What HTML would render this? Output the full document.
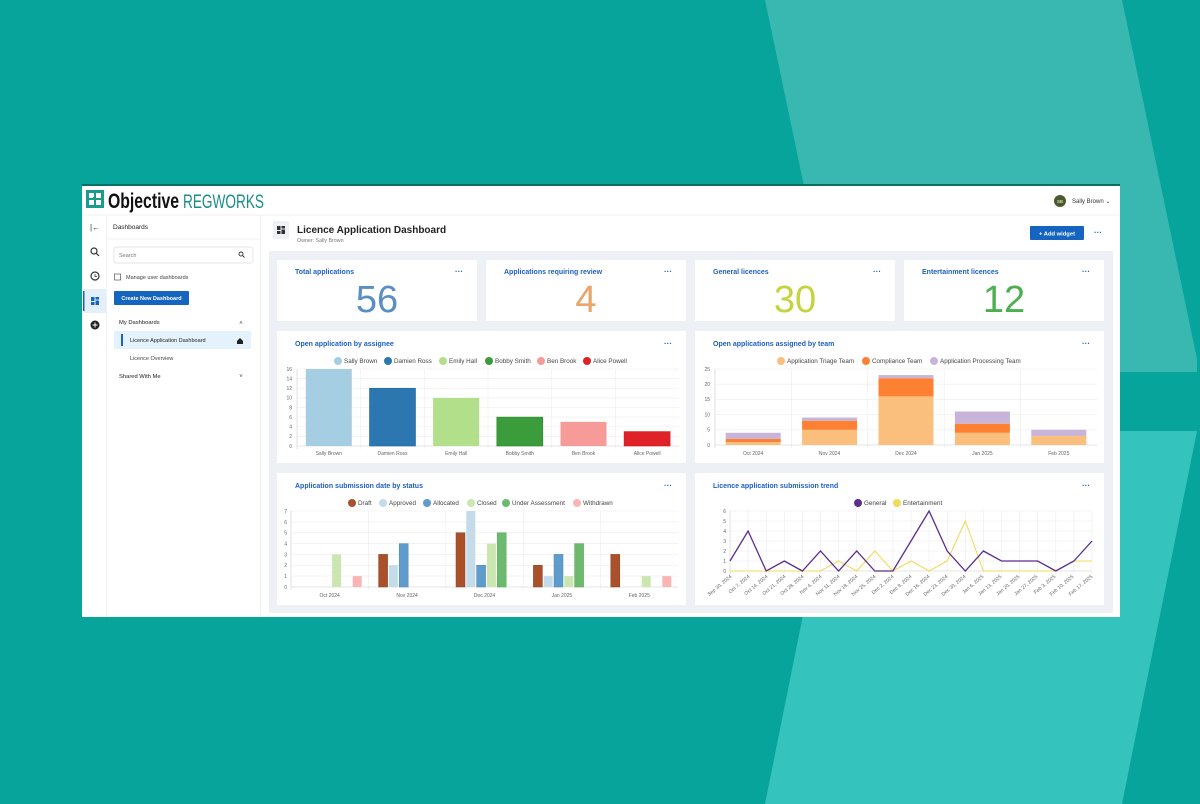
<!DOCTYPE html>
<html><head><meta charset="utf-8"><style>
html,body{margin:0;padding:0;width:1200px;height:804px;overflow:hidden;background:#06a49b}
svg{display:block}
text{font-family:"Liberation Sans",sans-serif}
.t{font-size:7px;fill:#1f5fbf;font-weight:bold}
.tk{font-size:5px;fill:#666}
.lg{font-size:6.3px;fill:#444}
.g{stroke:#ececec;stroke-width:0.6}
.dots{font-size:8px;fill:#1f5fbf;font-weight:bold}
</style></head><body>
<svg width="1200" height="804" viewBox="0 0 1200 804" xmlns="http://www.w3.org/2000/svg">
<rect width="1200" height="804" fill="#06a49b"/>
<polygon points="765,0 1122,0 1197,359 1197,372 843,372" fill="#39b8b2"/>
<polygon points="840,431 1197,431 1122,804 765,804" fill="#35c3be"/>

<!-- window -->
<rect x="82" y="184" width="1038" height="433" fill="#fff"/>
<rect x="82" y="184" width="1038" height="2" fill="#0b6f68"/>
<line x1="82" y1="215" x2="1120" y2="215" stroke="#eee" stroke-width="0.8"/>
<!-- logo -->
<rect x="86" y="190" width="18" height="18" fill="#1a9b8d"/>
<path d="M89 193h5v5h-5zM96 193h5v5h-5zM89 200h5v5h-5zM96 200h5v5h-5z" fill="#fff"/>
<path d="M93 197l2 2M95 197l-2 2" stroke="#1a9b8d"/>
<text x="108" y="208" font-size="21" font-weight="bold" fill="#111" textLength="71" lengthAdjust="spacingAndGlyphs">Objective</text>
<text x="183" y="208" font-size="19" fill="#1a8f88" textLength="81" lengthAdjust="spacingAndGlyphs">REGWORKS</text>
<circle cx="1060" cy="201" r="6" fill="#4a5a2a"/>
<text x="1060" y="203" font-size="4.5" fill="#fff" text-anchor="middle">SB</text>
<text x="1072" y="203" font-size="6" fill="#333">Sally Brown ⌄</text>

<!-- rail -->
<line x1="106.5" y1="215" x2="106.5" y2="617" stroke="#eee" stroke-width="0.8"/>
<text x="95" y="230" font-size="8" fill="#333" text-anchor="middle">|←</text>
<circle cx="94" cy="251" r="3" fill="none" stroke="#333" stroke-width="1.2"/><line x1="96" y1="253" x2="99" y2="256" stroke="#333" stroke-width="1.2"/>
<circle cx="95" cy="276" r="4" fill="none" stroke="#333" stroke-width="1.2"/><path d="M95 274v2.5h2" stroke="#333" fill="none" stroke-width="0.8"/>
<rect x="83" y="289" width="23" height="24" fill="#e3f0fb"/>
<rect x="83" y="291" width="1.5" height="20" fill="#1565c0"/>
<path d="M91 297h3.5v4h-3.5zM95.5 297h3.5v2.5h-3.5zM91 302h3.5v3h-3.5zM95.5 300.5h3.5v4.5h-3.5z" fill="#1565c0"/>
<circle cx="95" cy="325" r="4.5" fill="#222"/><path d="M92.5 325h5M95 322.5v5" stroke="#fff" stroke-width="1"/>

<!-- panel -->
<line x1="260.5" y1="215" x2="260.5" y2="617" stroke="#eee" stroke-width="0.8"/>
<text x="113" y="229" font-size="6.5" fill="#222">Dashboards</text>
<line x1="107" y1="239" x2="260" y2="239" stroke="#eee" stroke-width="0.8"/>
<rect x="114" y="247" width="139" height="16" rx="2" fill="#fff" stroke="#ddd" stroke-width="0.7"/>
<text x="119" y="257" font-size="5.5" fill="#777">Search</text>
<circle cx="241" cy="254" r="2" fill="none" stroke="#333" stroke-width="0.9"/><line x1="242.5" y1="255.5" x2="244.5" y2="257.5" stroke="#333" stroke-width="0.9"/>
<rect x="114.5" y="274" width="6" height="6" fill="#fff" stroke="#555" stroke-width="0.7"/>
<text x="126" y="279" font-size="5.5" fill="#444">Manage user dashboards</text>
<rect x="114" y="291" width="75" height="14" rx="1" fill="#1565c0"/>
<text x="151.5" y="300" font-size="5.5" fill="#fff" text-anchor="middle" font-weight="bold">Create New Dashboard</text>
<text x="119" y="324" font-size="5.8" fill="#222">My Dashboards</text>
<text x="241" y="325" font-size="6" fill="#444" text-anchor="middle">˄</text>
<rect x="114" y="331" width="137" height="18" fill="#e3f2fd"/>
<rect x="121" y="334" width="2" height="12" fill="#1565c0"/>
<text x="130" y="342" font-size="5.5" fill="#222">Licence Application Dashboard</text>
<path d="M237 341l3-3 3 3v3h-6z" fill="#222"/>
<text x="130" y="360" font-size="5.5" fill="#444">Licence Overview</text>
<text x="119" y="378" font-size="5.8" fill="#222">Shared With Me</text>
<text x="241" y="378" font-size="6" fill="#444" text-anchor="middle">˅</text>

<!-- main header -->
<rect x="273" y="221" width="16" height="18" rx="2" fill="#eef1f5"/>
<path d="M277 226h3.5v4h-3.5zM281.5 226h3.5v2.5h-3.5zM277 231h3.5v3h-3.5zM281.5 229.5h3.5v4.5h-3.5z" fill="#333"/>
<text x="297" y="233" font-size="10" font-weight="bold" fill="#222">Licence Application Dashboard</text>
<text x="297" y="242" font-size="5.3" fill="#777">Owner: Sally Brown</text>
<rect x="1030" y="226" width="54" height="14" rx="1" fill="#1565c0"/>
<text x="1057" y="235.5" font-size="5.8" fill="#fff" text-anchor="middle" font-weight="bold">+  Add widget</text>
<text x="1098" y="235" class="dots" text-anchor="middle">···</text>

<rect x="269" y="251" width="844" height="362" fill="#edf0f4"/>

<!-- KPI cards -->
<rect x="277" y="260" width="200" height="61" fill="#fff"/>
<rect x="486" y="260" width="200" height="61" fill="#fff"/>
<rect x="695" y="260" width="200" height="61" fill="#fff"/>
<rect x="904" y="260" width="200" height="61" fill="#fff"/>
<text x="295" y="274" class="t">Total applications</text>
<text x="504" y="274" class="t">Applications requiring review</text>
<text x="713" y="274" class="t">General licences</text>
<text x="922" y="274" class="t">Entertainment licences</text>
<text x="459" y="274" class="dots" text-anchor="middle">···</text>
<text x="668" y="274" class="dots" text-anchor="middle">···</text>
<text x="877" y="274" class="dots" text-anchor="middle">···</text>
<text x="1086" y="274" class="dots" text-anchor="middle">···</text>
<text x="377" y="312" font-size="38" fill="#5b8ec4" text-anchor="middle">56</text>
<text x="586" y="312" font-size="38" fill="#e8a56a" text-anchor="middle">4</text>
<text x="795" y="312" font-size="38" fill="#c5d33f" text-anchor="middle">30</text>
<text x="1004" y="312" font-size="38" fill="#4caf50" text-anchor="middle">12</text>

<!-- chart cards -->
<rect x="277" y="331" width="409" height="132" fill="#fff"/>
<rect x="695" y="331" width="409" height="132" fill="#fff"/>
<rect x="277" y="473" width="409" height="132" fill="#fff"/>
<rect x="695" y="473" width="409" height="132" fill="#fff"/>
<text x="295" y="346" class="t">Open application by assignee</text>
<text x="713" y="346" class="t">Open applications assigned by team</text>
<text x="295" y="488" class="t">Application submission date by status</text>
<text x="713" y="488" class="t">Licence application submission trend</text>
<text x="668" y="346" class="dots" text-anchor="middle">···</text>
<text x="1086" y="346" class="dots" text-anchor="middle">···</text>
<text x="668" y="488" class="dots" text-anchor="middle">···</text>
<text x="1086" y="488" class="dots" text-anchor="middle">···</text>

<!-- Chart 1: assignee -->
<g>
<line class="g" x1="297" x2="679" y1="369" y2="369"/><line class="g" x1="297" x2="679" y1="378.6" y2="378.6"/><line class="g" x1="297" x2="679" y1="388.25" y2="388.25"/><line class="g" x1="297" x2="679" y1="397.9" y2="397.9"/><line class="g" x1="297" x2="679" y1="407.5" y2="407.5"/><line class="g" x1="297" x2="679" y1="417.1" y2="417.1"/><line class="g" x1="297" x2="679" y1="426.75" y2="426.75"/><line class="g" x1="297" x2="679" y1="436.4" y2="436.4"/>
<line class="g" x1="360.7" x2="360.7" y1="369" y2="449"/><line class="g" x1="424.3" x2="424.3" y1="369" y2="449"/><line class="g" x1="488" x2="488" y1="369" y2="449"/><line class="g" x1="551.7" x2="551.7" y1="369" y2="449"/><line class="g" x1="615.3" x2="615.3" y1="369" y2="449"/>
<line x1="297" x2="679" y1="446" y2="446" stroke="#ccc" stroke-width="0.6"/><line x1="297" x2="297" y1="369" y2="449" stroke="#ccc" stroke-width="0.6"/>
<text class="tk" x="292" y="371" text-anchor="end">16</text><text class="tk" x="292" y="380.5" text-anchor="end">14</text><text class="tk" x="292" y="390" text-anchor="end">12</text><text class="tk" x="292" y="399.7" text-anchor="end">10</text><text class="tk" x="292" y="409.3" text-anchor="end">8</text><text class="tk" x="292" y="419" text-anchor="end">6</text><text class="tk" x="292" y="428.6" text-anchor="end">4</text><text class="tk" x="292" y="438.2" text-anchor="end">2</text><text class="tk" x="292" y="447.8" text-anchor="end">0</text>
<rect x="305.8" y="369" width="46" height="77" fill="#a6cee3"/>
<rect x="369.5" y="388.25" width="46" height="57.75" fill="#2c77b0" stroke="#1f68a0" stroke-width="0.6"/>
<rect x="433.1" y="397.9" width="46" height="48.1" fill="#b2df8a"/>
<rect x="496.8" y="417.1" width="46" height="28.9" fill="#3a9c3a" stroke="#2e8a2e" stroke-width="0.6"/>
<rect x="560.5" y="421.9" width="46" height="24.1" fill="#f79b99"/>
<rect x="624.1" y="431.6" width="46" height="14.4" fill="#de2228" stroke="#c81a20" stroke-width="0.6"/>
<text class="tk" x="328.8" y="455" text-anchor="middle">Sally Brown</text><text class="tk" x="392.5" y="455" text-anchor="middle">Damien Ross</text><text class="tk" x="456.2" y="455" text-anchor="middle">Emily Hall</text><text class="tk" x="519.8" y="455" text-anchor="middle">Bobby Smith</text><text class="tk" x="583.5" y="455" text-anchor="middle">Ben Brook</text><text class="tk" x="647.2" y="455" text-anchor="middle">Alice Powell</text>
<circle cx="338" cy="361" r="4" fill="#a6cee3"/><text class="lg" x="344" y="363">Sally Brown</text>
<circle cx="388" cy="361" r="4" fill="#2c77b0"/><text class="lg" x="394" y="363">Damien Ross</text>
<circle cx="443" cy="361" r="4" fill="#b2df8a"/><text class="lg" x="449" y="363">Emily Hall</text>
<circle cx="489" cy="361" r="4" fill="#3a9c3a"/><text class="lg" x="495" y="363">Bobby Smith</text>
<circle cx="541" cy="361" r="4" fill="#f79b99"/><text class="lg" x="547" y="363">Ben Brook</text>
<circle cx="587" cy="361" r="4" fill="#de2228"/><text class="lg" x="593" y="363">Alice Powell</text>
</g>

<!-- Chart 2: team -->
<g>
<line class="g" x1="715" x2="1097" y1="369" y2="369"/><line class="g" x1="715" x2="1097" y1="384.2" y2="384.2"/><line class="g" x1="715" x2="1097" y1="399.4" y2="399.4"/><line class="g" x1="715" x2="1097" y1="414.6" y2="414.6"/><line class="g" x1="715" x2="1097" y1="429.8" y2="429.8"/>
<line class="g" x1="791.4" x2="791.4" y1="369" y2="448"/><line class="g" x1="867.8" x2="867.8" y1="369" y2="448"/><line class="g" x1="944.2" x2="944.2" y1="369" y2="448"/><line class="g" x1="1020.6" x2="1020.6" y1="369" y2="448"/>
<line x1="715" x2="1097" y1="445" y2="445" stroke="#ccc" stroke-width="0.6"/><line x1="715" x2="715" y1="369" y2="448" stroke="#ccc" stroke-width="0.6"/>
<text class="tk" x="710" y="371" text-anchor="end">25</text><text class="tk" x="710" y="386" text-anchor="end">20</text><text class="tk" x="710" y="401.2" text-anchor="end">15</text><text class="tk" x="710" y="416.4" text-anchor="end">10</text><text class="tk" x="710" y="431.6" text-anchor="end">5</text><text class="tk" x="710" y="446.8" text-anchor="end">0</text>
<rect x="725.7" y="442" width="55" height="3" fill="#fabf7d"/><rect x="725.7" y="438.9" width="55" height="3.1" fill="#fd8033"/><rect x="725.7" y="432.8" width="55" height="6.1" fill="#c8b4d8"/>
<rect x="802.1" y="429.8" width="55" height="15.2" fill="#fabf7d"/><rect x="802.1" y="420.7" width="55" height="9.1" fill="#fd8033"/><rect x="802.1" y="417.6" width="55" height="3.1" fill="#c8b4d8"/>
<rect x="878.5" y="396.4" width="55" height="48.6" fill="#fabf7d"/><rect x="878.5" y="378.2" width="55" height="18.2" fill="#fd8033"/><rect x="878.5" y="375.1" width="55" height="3.1" fill="#c8b4d8"/>
<rect x="954.9" y="432.8" width="55" height="12.2" fill="#fabf7d"/><rect x="954.9" y="423.7" width="55" height="9.1" fill="#fd8033"/><rect x="954.9" y="411.5" width="55" height="12.2" fill="#c8b4d8"/>
<rect x="1031.3" y="435.9" width="55" height="9.1" fill="#fabf7d"/><rect x="1031.3" y="429.8" width="55" height="6.1" fill="#c8b4d8"/>
<text class="tk" x="753.2" y="455" text-anchor="middle">Oct 2024</text><text class="tk" x="829.6" y="455" text-anchor="middle">Nov 2024</text><text class="tk" x="906" y="455" text-anchor="middle">Dec 2024</text><text class="tk" x="982.4" y="455" text-anchor="middle">Jan 2025</text><text class="tk" x="1058.8" y="455" text-anchor="middle">Feb 2025</text>
<circle cx="781" cy="361" r="4" fill="#fabf7d"/><text class="lg" x="787" y="363">Application Triage Team</text>
<circle cx="866" cy="361" r="4" fill="#fd8033"/><text class="lg" x="872" y="363">Compliance Team</text>
<circle cx="934" cy="361" r="4" fill="#c8b4d8"/><text class="lg" x="940" y="363">Application Processing Team</text>
</g>

<!-- Chart 3: status -->
<g>
<line class="g" x1="291" x2="678" y1="511" y2="511"/><line class="g" x1="291" x2="678" y1="521.9" y2="521.9"/><line class="g" x1="291" x2="678" y1="532.7" y2="532.7"/><line class="g" x1="291" x2="678" y1="543.6" y2="543.6"/><line class="g" x1="291" x2="678" y1="554.4" y2="554.4"/><line class="g" x1="291" x2="678" y1="565.3" y2="565.3"/><line class="g" x1="291" x2="678" y1="576.1" y2="576.1"/>
<line class="g" x1="368.4" x2="368.4" y1="511" y2="590"/><line class="g" x1="445.8" x2="445.8" y1="511" y2="590"/><line class="g" x1="523.2" x2="523.2" y1="511" y2="590"/><line class="g" x1="600.6" x2="600.6" y1="511" y2="590"/>
<line x1="291" x2="678" y1="587" y2="587" stroke="#ccc" stroke-width="0.6"/><line x1="291" x2="291" y1="511" y2="590" stroke="#ccc" stroke-width="0.6"/>
<text class="tk" x="287" y="513" text-anchor="end">7</text><text class="tk" x="287" y="523.8" text-anchor="end">6</text><text class="tk" x="287" y="534.6" text-anchor="end">5</text><text class="tk" x="287" y="545.5" text-anchor="end">4</text><text class="tk" x="287" y="556.3" text-anchor="end">3</text><text class="tk" x="287" y="567.2" text-anchor="end">2</text><text class="tk" x="287" y="578" text-anchor="end">1</text><text class="tk" x="287" y="588.8" text-anchor="end">0</text>
<!-- Oct -->
<rect x="332.1" y="554.4" width="9" height="32.6" fill="#cbe6b0"/>
<rect x="352.7" y="576.1" width="9" height="10.9" fill="#f9b4b4"/>
<!-- Nov -->
<rect x="378.6" y="554.4" width="9" height="32.6" fill="#a8512b" stroke="#8e3f1e" stroke-width="0.5"/>
<rect x="388.9" y="565.3" width="9" height="21.7" fill="#c4dcea"/>
<rect x="399.2" y="543.6" width="9" height="43.4" fill="#5f9ccb" stroke="#4a88b8" stroke-width="0.5"/>
<!-- Dec -->
<rect x="456" y="532.7" width="9" height="54.3" fill="#a8512b" stroke="#8e3f1e" stroke-width="0.5"/>
<rect x="466.3" y="511" width="9" height="76" fill="#c4dcea"/>
<rect x="476.6" y="565.3" width="9" height="21.7" fill="#5f9ccb" stroke="#4a88b8" stroke-width="0.5"/>
<rect x="486.9" y="543.6" width="9" height="43.4" fill="#cbe6b0"/>
<rect x="497.2" y="532.7" width="9" height="54.3" fill="#6db96d" stroke="#58a858" stroke-width="0.5"/>
<!-- Jan -->
<rect x="533.4" y="565.3" width="9" height="21.7" fill="#a8512b" stroke="#8e3f1e" stroke-width="0.5"/>
<rect x="543.7" y="576.1" width="9" height="10.9" fill="#c4dcea"/>
<rect x="554" y="554.4" width="9" height="32.6" fill="#5f9ccb" stroke="#4a88b8" stroke-width="0.5"/>
<rect x="564.3" y="576.1" width="9" height="10.9" fill="#cbe6b0"/>
<rect x="574.6" y="543.6" width="9" height="43.4" fill="#6db96d" stroke="#58a858" stroke-width="0.5"/>
<!-- Feb -->
<rect x="610.8" y="554.4" width="9" height="32.6" fill="#a8512b" stroke="#8e3f1e" stroke-width="0.5"/>
<rect x="641.7" y="576.1" width="9" height="10.9" fill="#cbe6b0"/>
<rect x="662.3" y="576.1" width="9" height="10.9" fill="#f9b4b4"/>
<text class="tk" x="329.7" y="597" text-anchor="middle">Oct 2024</text><text class="tk" x="407.1" y="597" text-anchor="middle">Nov 2024</text><text class="tk" x="484.5" y="597" text-anchor="middle">Dec 2024</text><text class="tk" x="561.9" y="597" text-anchor="middle">Jan 2025</text><text class="tk" x="639.3" y="597" text-anchor="middle">Feb 2025</text>
<circle cx="352" cy="503" r="4" fill="#a8512b"/><text class="lg" x="358" y="505">Draft</text>
<circle cx="383" cy="503" r="4" fill="#c4dcea"/><text class="lg" x="389" y="505">Approved</text>
<circle cx="427" cy="503" r="4" fill="#5f9ccb"/><text class="lg" x="433" y="505">Allocated</text>
<circle cx="471" cy="503" r="4" fill="#cbe6b0"/><text class="lg" x="477" y="505">Closed</text>
<circle cx="506" cy="503" r="4" fill="#6db96d"/><text class="lg" x="512" y="505">Under Assessment</text>
<circle cx="577" cy="503" r="4" fill="#f9b4b4"/><text class="lg" x="583" y="505">Withdrawn</text>
</g>

<!-- Chart 4: trend -->
<g>
<line class="g" x1="730" x2="1092" y1="511" y2="511"/><line class="g" x1="730" x2="1092" y1="521" y2="521"/><line class="g" x1="730" x2="1092" y1="531" y2="531"/><line class="g" x1="730" x2="1092" y1="541" y2="541"/><line class="g" x1="730" x2="1092" y1="551" y2="551"/><line class="g" x1="730" x2="1092" y1="561" y2="561"/>
<g class="g"><line x1="748.1" x2="748.1" y1="511" y2="574"/><line x1="766.2" x2="766.2" y1="511" y2="574"/><line x1="784.3" x2="784.3" y1="511" y2="574"/><line x1="802.4" x2="802.4" y1="511" y2="574"/><line x1="820.5" x2="820.5" y1="511" y2="574"/><line x1="838.6" x2="838.6" y1="511" y2="574"/><line x1="856.7" x2="856.7" y1="511" y2="574"/><line x1="874.8" x2="874.8" y1="511" y2="574"/><line x1="892.9" x2="892.9" y1="511" y2="574"/><line x1="911" x2="911" y1="511" y2="574"/><line x1="929.1" x2="929.1" y1="511" y2="574"/><line x1="947.2" x2="947.2" y1="511" y2="574"/><line x1="965.3" x2="965.3" y1="511" y2="574"/><line x1="983.4" x2="983.4" y1="511" y2="574"/><line x1="1001.5" x2="1001.5" y1="511" y2="574"/><line x1="1019.6" x2="1019.6" y1="511" y2="574"/><line x1="1037.7" x2="1037.7" y1="511" y2="574"/><line x1="1055.8" x2="1055.8" y1="511" y2="574"/><line x1="1073.9" x2="1073.9" y1="511" y2="574"/><line x1="1092" x2="1092" y1="511" y2="574"/></g>
<line x1="730" x2="1092" y1="571" y2="571" stroke="#ccc" stroke-width="0.6"/><line x1="730" x2="730" y1="511" y2="574" stroke="#ccc" stroke-width="0.6"/>
<text class="tk" x="726" y="513" text-anchor="end">6</text><text class="tk" x="726" y="523" text-anchor="end">5</text><text class="tk" x="726" y="533" text-anchor="end">4</text><text class="tk" x="726" y="543" text-anchor="end">3</text><text class="tk" x="726" y="553" text-anchor="end">2</text><text class="tk" x="726" y="563" text-anchor="end">1</text><text class="tk" x="726" y="573" text-anchor="end">0</text>
<polyline fill="none" stroke="#f0dc5a" stroke-width="1.1" points="730,571 748.1,571 766.2,571 784.3,571 802.4,571 820.5,571 838.6,561 856.7,571 874.8,551 892.9,571 911,561 929.1,571 947.2,561 965.3,521 983.4,571 1001.5,571 1019.6,571 1037.7,571 1055.8,571 1073.9,561 1092,561"/>
<polyline fill="none" stroke="#5b2d8e" stroke-width="1.3" points="730,561 748.1,531 766.2,571 784.3,561 802.4,571 820.5,551 838.6,571 856.7,551 874.8,571 892.9,571 911,541 929.1,511 947.2,551 965.3,571 983.4,551 1001.5,561 1019.6,561 1037.7,561 1055.8,571 1073.9,561 1092,541"/>
<g class="tk" text-anchor="end">
<text transform="translate(732,577) rotate(-40)">Sep 30, 2024</text><text transform="translate(750,577) rotate(-40)">Oct 7, 2024</text><text transform="translate(768,577) rotate(-40)">Oct 14, 2024</text><text transform="translate(786,577) rotate(-40)">Oct 21, 2024</text><text transform="translate(804,577) rotate(-40)">Oct 28, 2024</text><text transform="translate(822,577) rotate(-40)">Nov 4, 2024</text><text transform="translate(840,577) rotate(-40)">Nov 11, 2024</text><text transform="translate(858,577) rotate(-40)">Nov 18, 2024</text><text transform="translate(876,577) rotate(-40)">Nov 25, 2024</text><text transform="translate(894,577) rotate(-40)">Dec 2, 2024</text><text transform="translate(912,577) rotate(-40)">Dec 9, 2024</text><text transform="translate(930,577) rotate(-40)">Dec 16, 2024</text><text transform="translate(948,577) rotate(-40)">Dec 23, 2024</text><text transform="translate(966,577) rotate(-40)">Dec 30, 2024</text><text transform="translate(984,577) rotate(-40)">Jan 6, 2025</text><text transform="translate(1002,577) rotate(-40)">Jan 13, 2025</text><text transform="translate(1020,577) rotate(-40)">Jan 20, 2025</text><text transform="translate(1038,577) rotate(-40)">Jan 27, 2025</text><text transform="translate(1056,577) rotate(-40)">Feb 3, 2025</text><text transform="translate(1074,577) rotate(-40)">Feb 10, 2025</text><text transform="translate(1093,577) rotate(-40)">Feb 17, 2025</text>
</g>
<circle cx="858" cy="503" r="4" fill="#5b2d8e"/><text class="lg" x="864" y="505">General</text>
<circle cx="897" cy="503" r="4" fill="#f0dc5a"/><text class="lg" x="903" y="505">Entertainment</text>
</g>
</svg>
</body></html>
